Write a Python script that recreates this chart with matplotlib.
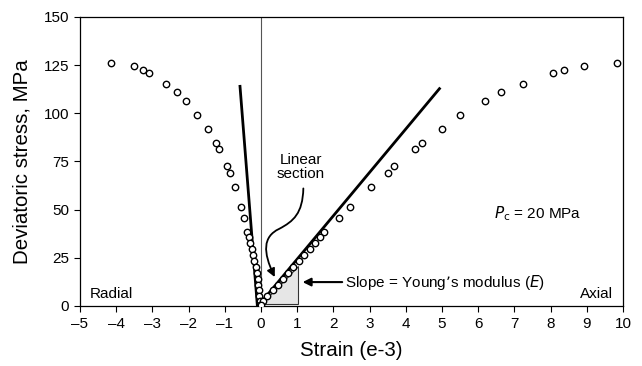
import matplotlib.pyplot as plt
from matplotlib.path import Path
from matplotlib.patches import FancyArrowPatch, Polygon

plt.rcParams['font.family'] = ['Liberation Sans', 'DejaVu Sans']

# ── data ────────────────────────────────────────────────────────────────
stress = [126, 124.5, 122.5, 121, 115.2, 111, 106.5, 99, 92, 84.4, 81.5,
          72.5, 69, 61.6, 51.2, 45.5, 38.5, 35.8, 32.5, 29.5, 26.3, 23.1,
          20.1, 17.1, 14.2, 11.1, 8.1, 5.0, 2.4, 0.5]
radial = [-4.14, -3.51, -3.25, -3.09, -2.62, -2.33, -2.08, -1.77, -1.47,
          -1.24, -1.16, -0.94, -0.86, -0.73, -0.54, -0.46, -0.38, -0.34,
          -0.30, -0.26, -0.21, -0.18, -0.14, -0.11, -0.09, -0.07, -0.06,
          -0.05, -0.04, -0.02]
axial = [9.83, 8.92, 8.38, 8.06, 7.24, 6.64, 6.18, 5.51, 5.0, 4.44, 4.25,
         3.68, 3.50, 3.04, 2.46, 2.15, 1.75, 1.64, 1.49, 1.34, 1.19, 1.04,
         0.89, 0.75, 0.61, 0.47, 0.32, 0.17, 0.05, 0.0]

# fitted linear sections (start, end)
radial_fit_x = [-0.10, -0.58]
radial_fit_y = [0, 114]
axial_fit_x = [-0.08, 4.93]
axial_fit_y = [0, 112.8]

# slope triangle
tri_x = [0.0, 1.02, 1.02]
tri_y = [1.0, 1.0, 20.5]

xticks = list(range(-5, 11))
yticks = [0, 25, 50, 75, 100, 125, 150]

fig = plt.figure(figsize=(6.42, 3.66), dpi=100)
ax = fig.add_axes([0.1246, 0.164, 0.8458, 0.7896])

ax.axvline(0, color='#555555', linewidth=0.8, zorder=1)

ax.add_patch(Polygon(list(zip(tri_x, tri_y)), closed=True, fc='#e6e6e6',
                     ec='#333333', linewidth=0.8, zorder=2))

ax.plot(radial_fit_x, radial_fit_y, color='black', linewidth=2, zorder=3)
ax.plot(axial_fit_x, axial_fit_y, color='black', linewidth=2, zorder=3)

ax.plot(radial, stress, 'o', ms=4.6, mfc='white', mec='black', mew=1.0,
        zorder=4)
ax.plot(axial, stress, 'o', ms=4.6, mfc='white', mec='black', mew=1.0,
        zorder=4)

# curly arrow for the linear section label
verts = [(1.17, 61), (1.15, 48), (0.9, 44), (0.5, 40),
         (0.05, 36), (0.05, 28), (0.38, 15)]
codes = [Path.MOVETO, Path.CURVE4, Path.CURVE4, Path.CURVE4,
         Path.CURVE4, Path.CURVE4, Path.CURVE4]
ax.add_patch(FancyArrowPatch(path=Path(verts, codes), arrowstyle='-|>',
                             mutation_scale=12, color='black',
                             linewidth=1.3, zorder=5))
ax.text(1.1, 72, 'Linear\nsection', ha='center', va='center',
        fontsize=11, linespacing=1.0)

ax.annotate('Slope = Young\u2019s modulus ($\\it{E}$)', xy=(1.15, 12.4),
            xytext=(2.32, 12.4), ha='left', va='center', fontsize=11,
            arrowprops=dict(arrowstyle='-|>', color='black', lw=1.5,
                            mutation_scale=12, shrinkA=0, shrinkB=0))

ax.text(6.45, 48, '$\\it{P}_{\\rm c}$ = 20 MPa', ha='left', va='center',
        fontsize=11)
ax.text(-4.72, 6, 'Radial', ha='left', va='center', fontsize=11)
ax.text(9.72, 6, 'Axial', ha='right', va='center', fontsize=11)

ax.set_xlim(-5, 10)
ax.set_ylim(0, 150)
ax.set_xticks(xticks)
ax.set_xticklabels([str(t).replace('-', '\u2013') for t in xticks])
ax.set_yticks(yticks)
ax.tick_params(direction='out', length=4, width=0.8, labelsize=11, pad=4)
for spine in ax.spines.values():
    spine.set_linewidth(0.9)

ax.set_xlabel('Strain (e-3)', fontsize=14.8)
ax.set_ylabel('Deviatoric stress, MPa', fontsize=14.8)
ax.xaxis.label.set_verticalalignment('center')
ax.yaxis.label.set_verticalalignment('center')
ax.xaxis.set_label_coords(0.5, -0.155)
ax.yaxis.set_label_coords(-0.106, 0.5)

fig.savefig('out.png', dpi=100, facecolor='white')
